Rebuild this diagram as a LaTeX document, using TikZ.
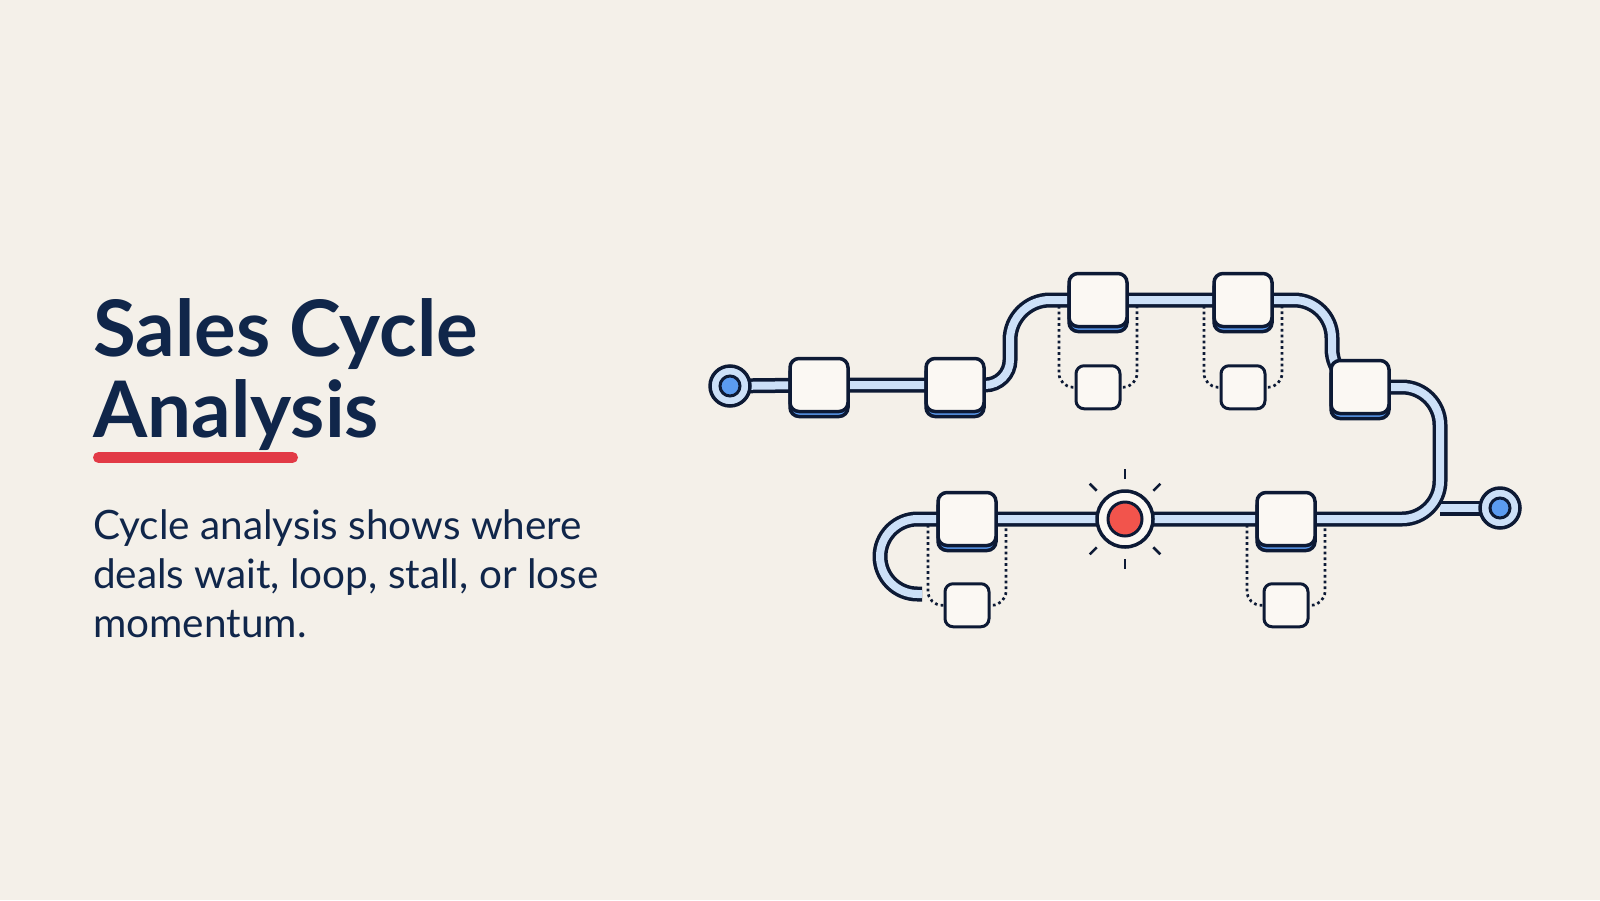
\documentclass[tikz,border=0pt]{standalone}
\usepackage{fontspec}
\setmainfont{Lato}
\usetikzlibrary{positioning,shadows,backgrounds}
\definecolor{paper}{HTML}{F4F0E9}
\definecolor{ink}{HTML}{0D1A35}
\definecolor{navy}{HTML}{10264A}
\definecolor{pipeblue}{HTML}{CCE0F8}
\definecolor{dotblue}{HTML}{5B9BF0}
\definecolor{cream}{HTML}{FBF8F3}
\definecolor{alarm}{HTML}{F2544C}
\definecolor{redline}{HTML}{E23A46}
\begin{document}
\begin{tikzpicture}[x = 1pt, y = -1pt,
    stage/.style = {draw = ink, line width = 3.5pt, fill = cream, rounded corners = 9pt,
      minimum width = 58pt, minimum height = 53pt,
      copy shadow = {shadow xshift = 0pt, shadow yshift = -5pt, fill = dotblue, draw = ink}},
    sub/.style = {draw = ink, line width = 3pt, fill = cream, rounded corners = 8pt,
      minimum width = 44pt, minimum height = 43pt},
    port/.style = {draw = ink, line width = 3.5pt, fill = pipeblue, circle, minimum size = 40pt},
    portdot/.style = {draw = ink, line width = 3pt, fill = dotblue, circle, minimum size = 20pt},
    stall/.style = {draw = ink, line width = 3.5pt, fill = cream, circle, minimum size = 56pt},
    core/.style = {draw = ink, line width = 3pt, fill = alarm, circle, minimum size = 34pt},
    ray/.style = {draw = ink, line width = 2.5pt},
    pipe/.style = {draw = ink, line width = 3.5pt, double = pipeblue, double distance = 8pt},
    detour/.style = {draw = ink, line width = 2.7pt, dash pattern = on 2.7pt off 3.1pt, rounded corners = 14pt},
    redbar/.style = {draw = redline, line width = 11pt, line cap = round},
    title/.style = {inner sep = 0pt, align = left, text = navy, font = \fontsize{78pt}{81pt}\selectfont\bfseries},
    body/.style = {inner sep = 0pt, align = left, text = navy, font = \fontsize{40.5pt}{49pt}\selectfont}]
  \useasboundingbox (0,0) rectangle (1600,900);
  %
  \node[title, anchor = base west] (head) at (93,437) {Sales Cycle\\Analysis};
  \draw[redbar] (98.5,457.5) -- (292.5,457.5);
  \node[body, anchor = base west] (lead) at (93,637) {Cycle analysis shows where\\deals wait, loop, stall, or lose\\momentum.};
  %
  \node[stage] (b1) at (819,385) {};
  \node[stage] (b2) at (955,385) {};
  \node[stage] (b3) at (1098,300) {};
  \node[stage] (b4) at (1243,300) {};
  \node[stage] (b5) at (1360,387) {};
  \node[stage] (b6) at (1286,519) {};
  \node[stage] (b7) at (967,519) {};
  \node[sub] (s3) [below = 36pt of b3] {};
  \node[sub] (s4) [below = 36pt of b4] {};
  \node[sub] (s6) [below = 35pt of b6] {};
  \node[sub] (s7) [below = 35pt of b7] {};
  %
  \node[port] (start) at (730,386) {};
  \node[portdot] (startdot) at (start) {};
  \node[port] (end) at (1500,508) {};
  \node[portdot] (enddot) at (end) {};
  %
  \node[stall] (stall) at (1125,519) {};
  \node[core] (core) at (stall) {};
  \foreach \a in {45,90,135,225,270,315}
    \draw[ray] (stall.center) ++(\a:40pt) -- ++(\a:10pt);
  %
  \begin{scope}[on background layer]
    \fill[paper] (0,0) rectangle (1600,900);
    \foreach \m/\s in {b3/s3, b4/s4, b6/s6, b7/s7}
      \draw[detour] ([xshift = -39pt]\m.center) |- (\s.center) -| ([xshift = 39pt]\m.center);
    \draw[pipe] (1440,508) -- (end.center);
    \draw[pipe] (start.center) -- (b1.center) -- (b2.center);
    \draw[pipe] (b2.center) [rounded corners = 25pt] -- (1010,385) [rounded corners = 40pt] -- (1010,300) -- (b3.center);
    \draw[pipe, rounded corners = 38pt] (b3.center) -- (b4.center) -- (1332,300) -- (1332,387) -- (1440,387) -- (1440,519) -- (b6.center);
    \draw[pipe, rounded corners = 37.5pt] (b6.center) -- (stall.center) -- (b7.center) -- (880,519) -- (880,594) -- (922,594);
  \end{scope}
\end{tikzpicture}
\end{document}
